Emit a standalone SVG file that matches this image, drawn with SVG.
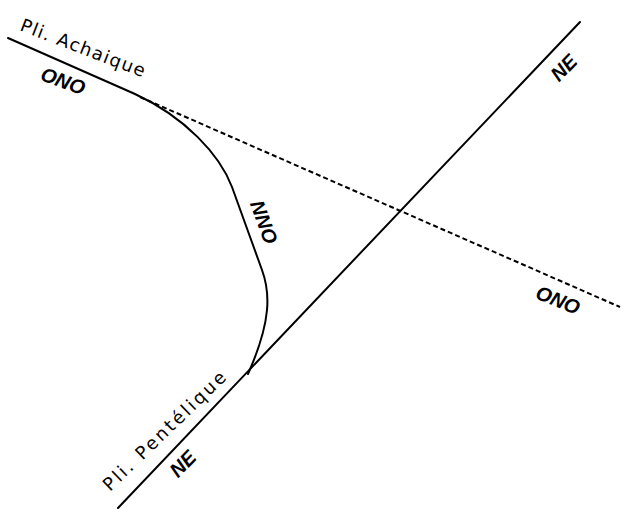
<svg xmlns="http://www.w3.org/2000/svg" width="623" height="509" viewBox="0 0 623 509">
<style>
.ln{fill:none;stroke:#000;stroke-width:2;stroke-linecap:round;stroke-linejoin:round}
.dash{fill:none;stroke:#000;stroke-width:2;stroke-dasharray:5 3}
.nm{font-family:"DejaVu Sans","Liberation Sans",sans-serif;font-size:18px;fill:#000}
.dir{font-family:"Liberation Sans","DejaVu Sans",sans-serif;font-size:20px;font-style:italic;font-weight:bold;fill:#000}
</style>
<rect width="623" height="509" fill="#fff"/>
<g id="connectors">
<path class="ln" d="M8,38 L135,94 C185,117 220,155 232,187 L262,270 C270,292 272,320 248,374"/>
<line class="dash" x1="140" y1="97" x2="620" y2="307"/>
<line class="ln" x1="118" y1="508" x2="580" y2="22"/>
</g>
<g id="pli-achaique">
<text class="nm" transform="translate(19,30) rotate(21)" textLength="132" lengthAdjust="spacing">Pli. Achaique</text>
<text class="dir" transform="translate(63,81) rotate(20)" text-anchor="middle" dy="7">ONO</text>
</g>
<g id="nno">
<text class="dir" transform="translate(264,222) rotate(70)" text-anchor="middle" dy="7">NNO</text>
</g>
<g id="ne-top">
<text class="dir" transform="translate(563,67) rotate(-46)" text-anchor="middle" dy="8" font-size="22">NE</text>
</g>
<g id="ono-right">
<text class="dir" transform="translate(558,300) rotate(22)" text-anchor="middle" dy="7">ONO</text>
</g>
<g id="pli-pentelique">
<text class="nm" transform="translate(110,492) rotate(-44)" textLength="163" lengthAdjust="spacing">Pli. Pentélique</text>
<text class="dir" transform="translate(182,463) rotate(-46)" text-anchor="middle" dy="8" font-size="22">NE</text>
</g>
</svg>
